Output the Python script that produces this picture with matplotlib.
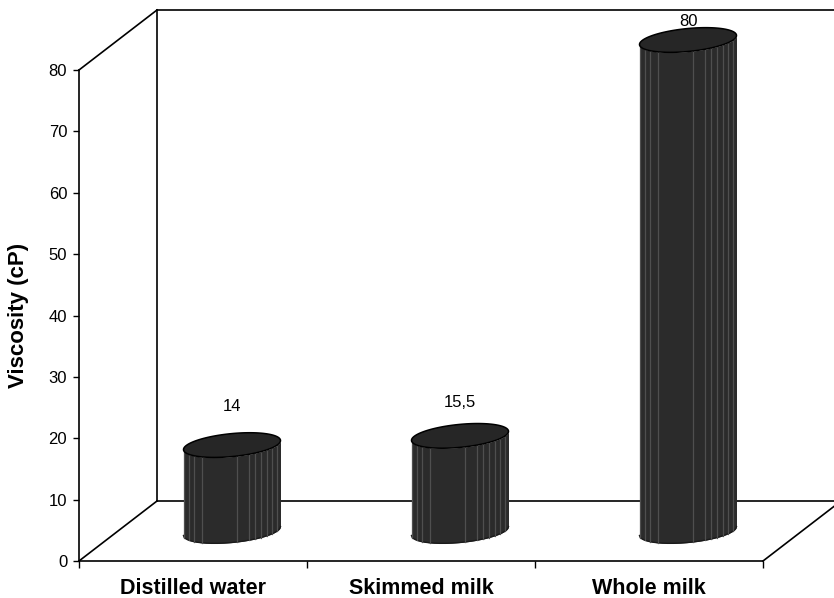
import numpy as np
import matplotlib
matplotlib.use('Agg')
import matplotlib.pyplot as plt

plt.rcParams['font.family'] = ['Liberation Sans', 'DejaVu Sans']

# Chart data
categories = ['Distilled water', 'Skimmed milk', 'Whole milk']
viscosity = [14, 15.5, 80]
value_labels = ['14', '15,5', '80']
yticks = [0, 10, 20, 30, 40, 50, 60, 70, 80]

W, H = 834, 598
fig = plt.figure(figsize=(W / 100, H / 100), dpi=100)
# plot box in pixels: front axis runs 79..763 across and 561..70 up
ax = fig.add_axes([79 / W, 1 - 561 / H, (763 - 79) / W, (561 - 70) / H])
ax.set_xlim(0, 3)
ax.set_ylim(0, 80)
ax.patch.set_visible(False)

px_x = 3 / (763 - 79)
px_y = 80 / (561 - 70)
depth_x = 78 * px_x
depth_y = 60 * px_y

# axes
for s in ['top', 'right']:
    ax.spines[s].set_visible(False)
for s in ['left', 'bottom']:
    ax.spines[s].set_linewidth(1.2)
ax.set_yticks(yticks)
ax.set_xticks([0, 1, 2, 3])
ax.set_xticklabels([])
ax.tick_params(axis='y', length=4.5, width=1.0, labelsize=12, pad=4, color='black')
ax.tick_params(axis='x', length=5, width=1.0)
for i, c in enumerate(categories):
    ax.annotate(c, (i + 0.5, 0), xytext=(0, -27), textcoords='offset pixels',
                ha='center', va='center', fontsize=15.5, fontweight='bold')
fig.text(19 / W, 1 - 315 / H, 'Viscosity (cP)', rotation=90, ha='center', va='center',
         fontsize=16, fontweight='bold')

# back wall and floor
line = dict(color='black', lw=1.2, clip_on=False, zorder=1)
ax.plot([0, depth_x], [80, 80 + depth_y], **line)
ax.plot([depth_x, depth_x], [depth_y, 80 + depth_y], **line)
ax.plot([depth_x, 3 + depth_x], [80 + depth_y, 80 + depth_y], **line)
ax.plot([0, depth_x], [0, depth_y], **line)
ax.plot([depth_x, 3 + depth_x], [depth_y, depth_y], **line)
ax.plot([3, 3 + depth_x], [0, depth_y], **line)

# cylinders
a = 48.5 * px_x
b = 11.5 * px_y
tilt = 4.5 * px_y
base = depth_y / 2
stripes = [0.01, 0.06, 0.11, 0.19, 0.55, 0.68, 0.74, 0.80, 0.86, 0.91, 0.96]
label_lift = [39, 33, 18]

t = np.linspace(0, 2 * np.pi, 200)
for i, v in enumerate(viscosity):
    cx = i + 0.5 + depth_x / 2
    top = base + v
    xs = np.linspace(-1, 1, 160)
    lower = -b * np.sqrt(1 - xs ** 2) + tilt * xs
    ax.fill_between(cx + a * xs, base + lower, top + lower, color='#2b2b2b', lw=0,
                    clip_on=False, zorder=2)
    ax.plot(cx + a * xs, base + lower, color='#1a1a1a', lw=1.0, clip_on=False, zorder=3)
    for f in stripes:
        u = 2 * f - 1
        low = -b * np.sqrt(1 - u ** 2) + tilt * u
        ax.plot([cx + a * u] * 2, [base + low, top + low], color='#4f4f4f', lw=0.9,
                clip_on=False, zorder=3)
    ax.fill(cx + a * np.cos(t), top + b * np.sin(t) + tilt * np.cos(t), facecolor='#262626',
            edgecolor='black', lw=1.1, clip_on=False, zorder=4)
    ax.annotate(value_labels[i], (cx, top), xytext=(0, label_lift[i]), textcoords='offset pixels',
                ha='center', va='center', fontsize=12, zorder=5, annotation_clip=False)

fig.savefig('out.png', dpi=100)
